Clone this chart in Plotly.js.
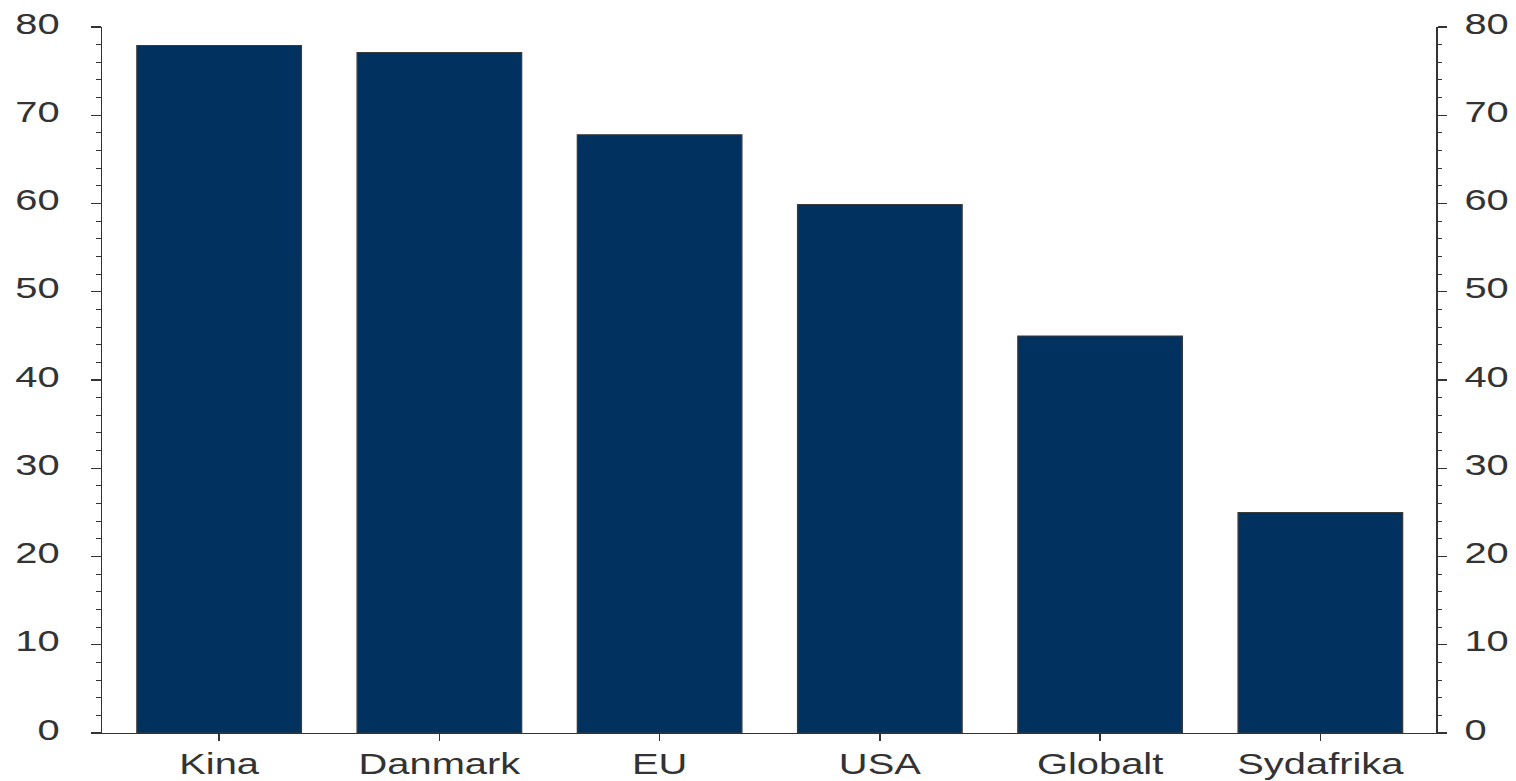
<!DOCTYPE html>
<html>
<head>
<meta charset="utf-8">
<script src="https://cdn.plot.ly/plotly-3.0.1.min.js"></script>
<style>
  html, body { margin: 0; padding: 0; background: #fff; overflow: hidden; }
  #wrap { width: 1516px; height: 781px; overflow: hidden; }
  #chart { width: 1140px; height: 781px; transform: scaleX(1.32982); transform-origin: 0 0; }
</style>
</head>
<body>
<div id="wrap"><div id="chart"></div></div>
<script>
const categories = ["Kina", "Danmark", "EU", "USA", "Globalt", "Sydafrika"];
const values = [77.9, 77.1, 67.8, 59.9, 45.0, 25.0];
const yTickValues = [0, 10, 20, 30, 40, 50, 60, 70, 80];

const barColor = "#01325f";
const inkColor = "#333333";
const fontFamily = "'Liberation Sans', Arial, sans-serif";

const traces = [
  {
    type: "bar",
    x: categories,
    y: values,
    marker: { color: barColor, line: { color: "#3a3a3a", width: 1 } },
    hoverinfo: "x+y",
    showlegend: false
  },
  {
    type: "scatter",
    mode: "markers",
    x: categories,
    y: values,
    yaxis: "y2",
    marker: { opacity: 0, size: 1 },
    hoverinfo: "skip",
    showlegend: false
  }
];

const yCommon = {
  range: [0, 80],
  tickmode: "array",
  tickvals: yTickValues,
  ticktext: yTickValues.map(String),
  showgrid: false,
  zeroline: false,
  showline: true,
  linecolor: inkColor,
  linewidth: 1.2,
  ticks: "outside",
  ticklen: 7,
  tickwidth: 1.2,
  tickcolor: inkColor,
  ticklabelshift: -4,
  tickfont: { family: fontFamily, size: 30, color: inkColor },
  minor: { dtick: 2, ticks: "outside", ticklen: 3.5, tickwidth: 1, tickcolor: inkColor, showgrid: false },
  fixedrange: true
};

const layout = {
  width: 1140,
  height: 781,
  margin: { l: 76.7, r: 60.2, t: 27, b: 48, pad: 0 },
  paper_bgcolor: "#ffffff",
  plot_bgcolor: "#ffffff",
  bargap: 0.253,
  showlegend: false,
  font: { family: fontFamily, color: inkColor },
  xaxis: {
    type: "category",
    range: [-0.53, 5.526],
    showgrid: false,
    zeroline: false,
    showline: true,
    linecolor: inkColor,
    linewidth: 1.2,
    ticks: "outside",
    ticklen: 7,
    tickwidth: 1,
    tickcolor: inkColor,
    ticklabelstandoff: -3,
    tickfont: { family: fontFamily, size: 30, color: inkColor },
    fixedrange: true
  },
  yaxis: Object.assign({}, yCommon, { side: "left", ticklabelstandoff: 18 }),
  yaxis2: Object.assign({}, yCommon, { side: "right", overlaying: "y", ticklabelstandoff: 7 })
};

Plotly.newPlot("chart", traces, layout, { displayModeBar: false, staticPlot: true });
</script>
</body>
</html>
